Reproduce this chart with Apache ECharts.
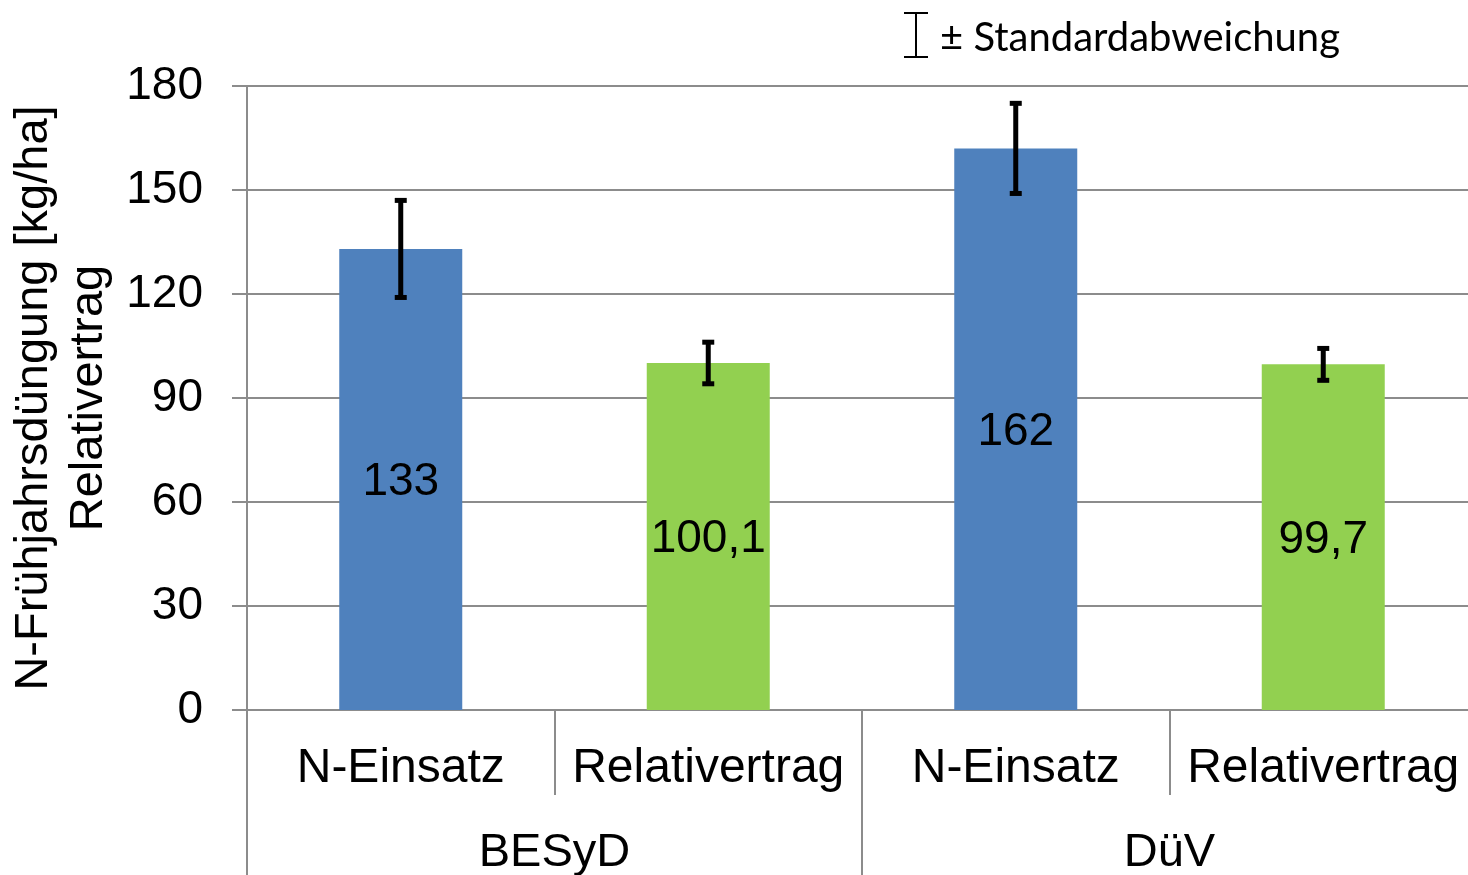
<!DOCTYPE html>
<html>
<head>
<meta charset="utf-8">
<script src="https://cdn.jsdelivr.net/npm/echarts@6/dist/echarts.min.js"></script>
<style>html,body{margin:0;padding:0;background:#fff;overflow:hidden}#c{width:1468px;height:875px}</style>
</head>
<body>
<div id="c"></div>
<script>
const categories = ['N-Einsatz', 'Relativertrag', 'N-Einsatz', 'Relativertrag'];
const groups = ['BESyD', 'DüV'];
const values = [133, 100.1, 162, 99.7];
const stdDev = [14, 6, 13, 4.6];
const yTicks = { min: 0, max: 180, interval: 30 };
const yAxisTitle = 'N-Frühjahrsdüngung [kg/ha]\nRelativertrag';
const legendText = '± Standardabweichung';

const COLORS = ['#4F81BD', '#92D050'];
const GRAY = '#8c8c8c';
const FONT = '"Liberation Sans", Arial, sans-serif';

const chart = echarts.init(document.getElementById('c'));
chart.setOption({
  animation: false,
  grid: { left: 247, top: 86, width: 1230, height: 624, containLabel: false, outerBoundsMode: 'none' },
  xAxis: [
    {
      type: 'category', data: categories, position: 'bottom',
      axisLine: { show: true, lineStyle: { color: GRAY, width: 2 } },
      axisTick: { show: true, length: 85, lineStyle: { color: GRAY, width: 2 } },
      axisLabel: { color: '#000', fontSize: 48, fontFamily: FONT, margin: 35, interval: 0 }
    },
    {
      type: 'category', data: groups, position: 'bottom',
      axisLine: { show: false },
      axisTick: { show: true, length: 170, lineStyle: { color: GRAY, width: 2 } },
      axisLabel: { color: '#000', fontSize: 47, fontFamily: FONT, margin: 120, interval: 0 }
    }
  ],
  yAxis: {
    type: 'value', min: yTicks.min, max: yTicks.max, interval: yTicks.interval,
    axisLine: { show: true, lineStyle: { color: GRAY, width: 2 } },
    axisTick: { show: true, length: 15, lineStyle: { color: GRAY, width: 2 } },
    axisLabel: { color: '#000', fontSize: 46, fontFamily: FONT, margin: 44 },
    splitLine: { show: true, lineStyle: { color: GRAY, width: 2 } }
  },
  series: [
    {
      type: 'bar', xAxisIndex: 0, data: values, barWidth: '40%',
      itemStyle: { color: p => COLORS[p.dataIndex % 2] },
      label: {
        show: true, position: 'inside', offset: [0, 3], color: '#000', fontSize: 46, fontFamily: FONT,
        formatter: p => String(p.value).replace('.', ',')
      }
    },
    {
      type: 'custom', xAxisIndex: 0, z: 10,
      data: values.map((v, i) => [i, v - stdDev[i], v + stdDev[i]]),
      renderItem: function (params, api) {
        const lo = api.coord([api.value(0), api.value(1)]);
        const hi = api.coord([api.value(0), api.value(2)]);
        const x = lo[0], hw = 6;
        const st = { stroke: '#000', lineWidth: 5 };
        return {
          type: 'group', children: [
            { type: 'line', shape: { x1: x, y1: lo[1], x2: x, y2: hi[1] }, style: st },
            { type: 'line', shape: { x1: x - hw, y1: lo[1], x2: x + hw, y2: lo[1] }, style: st },
            { type: 'line', shape: { x1: x - hw, y1: hi[1], x2: x + hw, y2: hi[1] }, style: st }
          ]
        };
      }
    }
  ],
  graphic: [
    {
      type: 'text', x: 62, y: 398, rotation: Math.PI / 2,
      style: { text: yAxisTitle, fontSize: 47, fontFamily: FONT, fill: '#000', align: 'center', verticalAlign: 'middle', lineHeight: 55 }
    },
    {
      type: 'group', x: 916, y: 35, children: [
        { type: 'line', shape: { x1: 0, y1: -22, x2: 0, y2: 22 }, style: { stroke: '#000', lineWidth: 2 } },
        { type: 'line', shape: { x1: -12, y1: -22, x2: 12, y2: -22 }, style: { stroke: '#000', lineWidth: 2 } },
        { type: 'line', shape: { x1: -12, y1: 22, x2: 12, y2: 22 }, style: { stroke: '#000', lineWidth: 2 } }
      ]
    },
    {
      type: 'text', x: 940, y: 38,
      style: { text: legendText, fontSize: 40, fontFamily: 'Lato, "Open Sans", sans-serif', fill: '#000', align: 'left', verticalAlign: 'middle' }
    }
  ]
});
</script>
</body>
</html>
